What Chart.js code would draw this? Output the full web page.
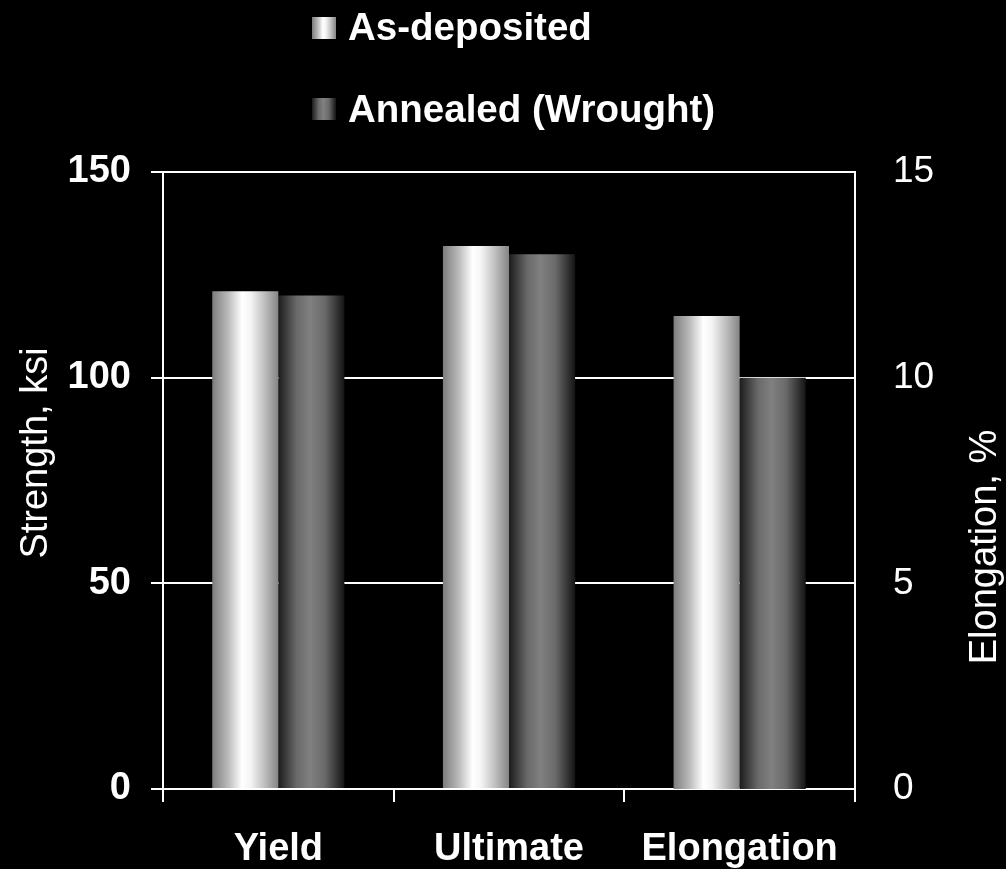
<!DOCTYPE html>
<html>
<head>
<meta charset="utf-8">
<title>Strength and elongation</title>
<script src="https://cdn.jsdelivr.net/npm/chart.js@4/dist/chart.umd.min.js"></script>
<style>
  html, body { margin: 0; padding: 0; background: #000; }
  #wrap { width: 1006px; height: 869px; position: relative; }
</style>
</head>
<body>
<div id="wrap"><canvas id="chart"></canvas></div>
<script>
// ---- data ----
const categories = ['Yield', 'Ultimate', 'Elongation'];
const seriesNames = ['As-deposited', 'Annealed (Wrought)'];
// tensile properties, ksi (left axis)
const strengthAsDeposited = [121, 132];
const strengthAnnealed = [120, 130];
// elongation, % (right axis)
const elongationAsDeposited = 11.5;
const elongationAnnealed = 10;
const strengthTicks = [0, 50, 100, 150];
const elongationTicks = [0, 5, 10, 15];
const strengthTitle = 'Strength, ksi';
const elongationTitle = 'Elongation, %';

// ---- look ----
const FONT = "'Liberation Sans', Arial, sans-serif";
const shades = {
  light: [[0, '#7c7c7c'], [0.25, '#bdbdbd'], [0.45, '#ffffff'], [0.58, '#f4f4f4'], [0.8, '#bcbcbc'], [1, '#858585']],
  dark:  [[0, '#1c1c1c'], [0.28, '#6a6a6a'], [0.48, '#808080'], [0.7, '#6a6a6a'], [1, '#141414']]
};

function makeGradient(ctx, x0, x1, stops) {
  const g = ctx.createLinearGradient(x0, 0, x1, 0);
  stops.forEach(([o, c]) => g.addColorStop(o, c));
  return g;
}

const strengthPart = (vals) => vals.concat(categories.slice(vals.length).map(() => null));
const elongationPart = (v) => categories.map((c, i) => (i === categories.length - 1 ? v : null));

const datasets = [
  { label: seriesNames[0], shade: 'light', yAxisID: 'y',  data: strengthPart(strengthAsDeposited) },
  { label: seriesNames[1], shade: 'dark',  yAxisID: 'y',  data: strengthPart(strengthAnnealed) },
  { label: seriesNames[0], shade: 'light', yAxisID: 'y2', data: elongationPart(elongationAsDeposited) },
  { label: seriesNames[1], shade: 'dark',  yAxisID: 'y2', data: elongationPart(elongationAnnealed) }
].map(d => Object.assign(d, {
  backgroundColor: () => '#808080',
  borderWidth: 0,
  skipNull: true,
  categoryPercentage: 0.573,
  barPercentage: 1.0
}));

// shading of each bar across its width, plus legend and axis titles
const decorations = {
  id: 'decorations',
  beforeDatasetsDraw(chart) {
    const ctx = chart.ctx;
    chart.data.datasets.forEach((ds, i) => {
      const meta = chart.getDatasetMeta(i);
      meta.data.forEach(bar => {
        if (!isFinite(bar.x) || !isFinite(bar.width) || !bar.width) return;
        bar.options.backgroundColor = makeGradient(ctx, bar.x - bar.width / 2, bar.x + bar.width / 2, shades[ds.shade]);
      });
    });
  },
  afterDraw(chart) {
    const ctx = chart.ctx;
    ctx.save();
    // legend
    const rows = [
      { name: seriesNames[0], shade: 'light', boxTop: 17, base: 40 },
      { name: seriesNames[1], shade: 'dark',  boxTop: 98, base: 122 }
    ];
    rows.forEach(r => {
      ctx.fillStyle = makeGradient(ctx, 312, 336, shades[r.shade]);
      ctx.fillRect(312, r.boxTop, 24, 22);
      ctx.fillStyle = '#ffffff';
      ctx.font = 'bold 38.5px ' + FONT;
      ctx.textAlign = 'left';
      ctx.textBaseline = 'alphabetic';
      ctx.fillText(r.name, 348, r.base);
    });
    // axis titles, both reading upward
    ctx.font = '38px ' + FONT;
    ctx.textAlign = 'center';
    ctx.fillStyle = '#ffffff';
    ctx.save();
    ctx.translate(47, 453);
    ctx.rotate(-Math.PI / 2);
    ctx.fillText(strengthTitle, 0, 0);
    ctx.restore();
    ctx.save();
    ctx.translate(996, 547);
    ctx.rotate(-Math.PI / 2);
    ctx.fillText(elongationTitle, 0, 0);
    ctx.restore();
    ctx.restore();
  }
};

new Chart(document.getElementById('chart'), {
  type: 'bar',
  data: { labels: categories, datasets },
  plugins: [decorations],
  options: {
    responsive: true,
    maintainAspectRatio: false,
    animation: false,
    layout: { padding: { top: 172, left: 0, right: 0, bottom: 0 } },
    plugins: { legend: { display: false }, tooltip: { enabled: false } },
    scales: {
      x: {
        offset: true,
        grid: { offset: true, drawOnChartArea: false, drawTicks: true, tickLength: 13, color: '#ffffff', lineWidth: 2 },
        border: { display: true, color: '#ffffff', width: 2 },
        ticks: { color: '#ffffff', font: { family: FONT, size: 38, weight: 'bold' }, padding: 25, maxRotation: 0 },
        afterFit(scale) { scale.height = 80; }
      },
      y: {
        position: 'left',
        min: 0, max: 150,
        afterBuildTicks(scale) { scale.ticks = strengthTicks.map(v => ({ value: v })); },
        grid: { color: '#ffffff', lineWidth: 2, drawTicks: true, tickLength: 12 },
        border: { display: true, color: '#ffffff', width: 2 },
        ticks: { color: '#ffffff', font: { family: FONT, size: 38, weight: 'bold' }, padding: 20 },
        afterFit(scale) { scale.width = 163; }
      },
      y2: {
        position: 'right',
        min: 0, max: 15,
        afterBuildTicks(scale) { scale.ticks = elongationTicks.map(v => ({ value: v })); },
        grid: { display: false, drawTicks: false, drawOnChartArea: false },
        border: { display: true, color: '#ffffff', width: 2 },
        ticks: { color: '#ffffff', font: { family: FONT, size: 37 }, padding: 38 },
        afterFit(scale) { scale.width = 151; }
      }
    }
  }
});
</script>
</body>
</html>
